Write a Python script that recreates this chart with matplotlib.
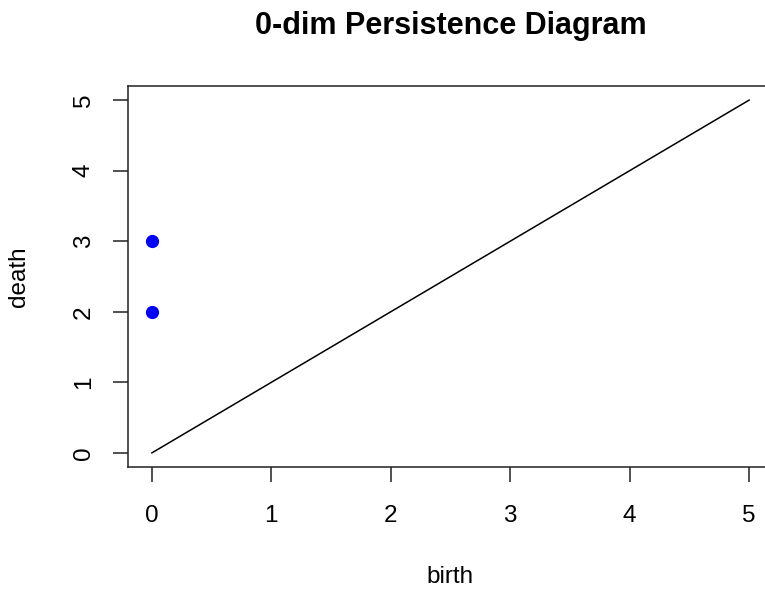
import matplotlib
matplotlib.use("Agg")
import matplotlib.pyplot as plt

# points of the 0-dim diagram
birth = [0, 0]
death = [2, 3]
diag = [0, 5]
ticks = [0, 1, 2, 3, 4, 5]

W, H = 765, 591
plt.rcParams['font.family'] = ['Liberation Sans', 'DejaVu Sans']

fig = plt.figure(figsize=(W / 100, H / 100), dpi=100)
fig.patch.set_facecolor('#ffffff')

# plot region in pixels (R style, runs off the right edge)
left, right, top, bottom = 128, 773, 86, 467
ax = fig.add_axes([left / W, 1 - bottom / H, (right - left) / W, (bottom - top) / H])

ax.plot(diag, diag, color='black', lw=1.1)
ax.plot(birth, death, 'o', color='#0000ff', ms=8.5, mec='#0000ff', clip_on=False)

ax.set_xlim(-0.2, 5.2)
ax.set_ylim(-0.2, 5.2)
ax.set_xticks(ticks)
ax.set_yticks(ticks)
ax.set_xticklabels([str(t) for t in ticks])
ax.set_yticklabels([str(t) for t in ticks])
for s in ax.spines.values():
    s.set_linewidth(1.1)
    s.set_color('#222222')
ax.tick_params(axis='both', direction='out', length=11, width=1.1, color='#222222', labelsize=17.5)
ax.tick_params(axis='x', pad=16)
ax.tick_params(axis='y', pad=13)
plt.setp(ax.get_yticklabels(), rotation=90, va='center', ha='right')

cx = (left + right) / 2 / W
cy = 1 - (top + bottom) / 2 / H
fig.text(cx, 1 - 26 / H, "0-dim Persistence Diagram", ha='center', va='center',
         fontsize=22, fontweight='bold')
fig.text(cx, 1 - 577 / H, "birth", ha='center', va='center', fontsize=17.5)
fig.text(19 / W, cy, "death", ha='center', va='center', rotation=90, fontsize=17.5)

fig.savefig("out.png", dpi=100, facecolor='#ffffff')
